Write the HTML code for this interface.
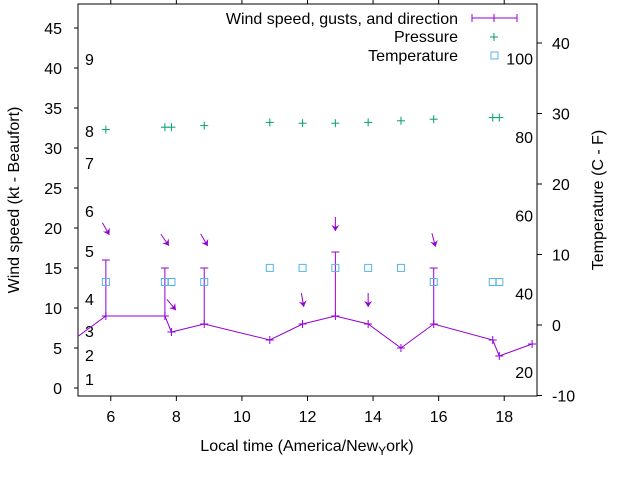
<!DOCTYPE html>
<html><head><meta charset="utf-8"><style>
body{margin:0;background:#fff;}
svg{display:block;font-family:"Liberation Sans",sans-serif;}
</style></head><body>
<svg id="c" width="640" height="480" viewBox="0 0 640 480"></svg>
<script>
const hours=[4.85,5.85,7.65,7.85,8.85,10.85,11.85,12.85,13.85,14.85,15.85,17.65,17.85,18.85];
const windKt=[6,9,9,7,8,6,8,9,8,5,8,6,4,5.5];
const gustHours=[5.85,7.65,8.85,12.85,15.85];
const gustKt=[16,15,15,17,15];
const gustBase=[9,9,8,9,8];
const dirHours=[5.85,7.65,7.85,8.85,11.85,12.85,13.85,15.85];
const dirY=[19.9,18.5,10.4,18.5,11.0,20.5,11.0,18.5];
const dirDeg=[330,325,320,330,350,0,0,345];
const presHours=[5.85,7.65,7.85,8.85,10.85,11.85,12.85,13.85,14.85,15.85,17.65,17.85];
const presY=[32.3,32.6,32.6,32.8,33.2,33.1,33.1,33.2,33.4,33.6,33.8,33.8];
const tempHours=[5.85,7.65,7.85,8.85,10.85,11.85,12.85,13.85,14.85,15.85,17.65,17.85];
const tempC=[6.1,6.1,6.1,6.1,8.1,8.1,8.1,8.1,8.1,6.1,6.1,6.1];
const xTicks=[6,8,10,12,14,16,18];
const yTicks=[0,5,10,15,20,25,30,35,40,45];
const y2Ticks=[-10,0,10,20,30,40];
const fTicks=[20,40,60,80,100];
const bftLabels=[["1",1.1],["2",4.1],["3",7.1],["4",11.1],["5",17.1],["6",22.1],["7",28.1],["8",32.1],["9",41.1]];

const FS=16;
const L=78,R=537,T=4,B=396;
const X=h=>L+(h-5)*(R-L)/14;
const Y=k=>388-k*8;
const Y2=c=>325-c*7.05;
const svg=document.getElementById('c');
const NS='http://www.w3.org/2000/svg';
function mk(tag,attrs,parent){const e=document.createElementNS(NS,tag);for(const k in attrs)e.setAttribute(k,attrs[k]);(parent||svg).appendChild(e);return e;}
function txt(s,x,y,anchor,parent){const t=mk('text',{x:x,y:y,'font-size':FS,'text-anchor':anchor||'middle',fill:'#000'},parent);t.textContent=s;return t;}

const defs=mk('defs',{});
const cp=mk('clipPath',{id:'clip'},defs);mk('rect',{x:L,y:T,width:R-L,height:B-T},cp);

const frame=mk('rect',{x:L,y:T,width:R-L,height:B-T,fill:'none',stroke:'#000','stroke-width':1});


const xa=mk('g',{});
xTicks.forEach(v=>{const x=X(v);mk('line',{x1:x,x2:x,y1:B,y2:B+5,stroke:'#000'},xa);mk('line',{x1:x,x2:x,y1:T,y2:T-4,stroke:'#000'},xa);txt(String(v),x,422,'middle',xa);});
const ya=mk('g',{});
yTicks.forEach(v=>{const y=Y(v);mk('line',{x1:L-4,x2:L,y1:y,y2:y,stroke:'#000'},ya);txt(String(v),62,y+6,'end',ya);});
const yb=mk('g',{});
bftLabels.forEach(b=>txt(b[0],85,Y(b[1])+6,'start',yb));
const y2=mk('g',{});
y2Ticks.forEach(v=>{const y=Y2(v);mk('line',{x1:R,x2:R+5,y1:y,y2:y,stroke:'#000'},y2);txt(String(v),552,y+6,'start',y2);});
const yf=mk('g',{});
fTicks.forEach(f=>txt(String(f),533,Y2((f-32)/1.8)+6,'end',yf));

const xt=mk('text',{x:307,y:451,'font-size':FS,'text-anchor':'middle'});
xt.innerHTML='Local time (America/New<tspan font-size="12" dy="4">Y</tspan><tspan dy="-4">ork)</tspan>';
const ylt=mk('text',{x:0,y:0,'font-size':FS,'text-anchor':'middle',transform:'translate(19,200) rotate(-90)'});ylt.textContent='Wind speed (kt - Beaufort)';

const yrt=mk('text',{x:0,y:0,'font-size':FS,'text-anchor':'middle',transform:'translate(603,200) rotate(-90)'});yrt.textContent='Temperature (C - F)';


const pg=mk('g',{'clip-path':'url(#clip)'});
const PURP='#9400d3',GREEN='#009e73',BLUE='#56b4e9';
const wl=mk('polyline',{points:hours.map((h,i)=>X(h)+','+Y(windKt[i])).join(' '),fill:'none',stroke:PURP,'stroke-width':1},pg);

hours.forEach((h,i)=>{const x=X(h),y=Y(windKt[i]);const g=mk('g',{stroke:PURP},pg);mk('line',{x1:x-4,x2:x+4,y1:y,y2:y},g);mk('line',{x1:x,x2:x,y1:y-4,y2:y+4},g);});
gustHours.forEach((h,i)=>{const x=X(h);const g=mk('g',{stroke:PURP},pg);
mk('line',{x1:x,x2:x,y1:Y(gustBase[i]),y2:Y(gustKt[i])},g);mk('line',{x1:x-4,x2:x+4,y1:Y(gustKt[i]),y2:Y(gustKt[i])},g);});
dirHours.forEach((h,i)=>{const cx=X(h),cy=Y(dirY[i]);const a=(dirDeg[i]+180)*Math.PI/180;const dx=Math.sin(a),dy=-Math.cos(a);
const x1=cx-dx*7,y1=cy-dy*7,x2=cx+dx*7,y2=cy+dy*7;const g=mk('g',{},pg);
mk('line',{x1:x1,y1:y1,x2:x2,y2:y2,stroke:PURP},g);
const px=-dy,py=dx;mk('polygon',{points:`${x2},${y2} ${x2-dx*6+px*4},${y2-dy*6+py*4} ${x2-dx*4},${y2-dy*4} ${x2-dx*6-px*4},${y2-dy*6-py*4}`,fill:PURP},g);});
presHours.forEach((h,i)=>{const x=X(h),y=Y(presY[i]);const g=mk('g',{stroke:GREEN},pg);mk('line',{x1:x-4,x2:x+4,y1:y,y2:y},g);mk('line',{x1:x,x2:x,y1:y-4,y2:y+4},g);});
tempHours.forEach((h,i)=>{const r=mk('rect',{x:X(h)-3.5,y:Y2(tempC[i])-3.5,width:7,height:7,fill:'none',stroke:BLUE},pg);});

const lg=mk('g',{});
txt('Wind speed, gusts, and direction',458,24,'end',lg);
mk('line',{x1:472,x2:517,y1:18,y2:18,stroke:PURP},lg);
[472,494,517].forEach(x=>mk('line',{x1:x,x2:x,y1:14,y2:22,stroke:PURP},lg));
txt('Pressure',458,42,'end',lg);
mk('line',{x1:490,x2:498,y1:37,y2:37,stroke:GREEN},lg);mk('line',{x1:494,x2:494,y1:33,y2:41,stroke:GREEN},lg);
txt('Temperature',458,61,'end',lg);
mk('rect',{x:491,y:52,width:7,height:7,fill:'none',stroke:BLUE},lg);
</script>
</body></html>
